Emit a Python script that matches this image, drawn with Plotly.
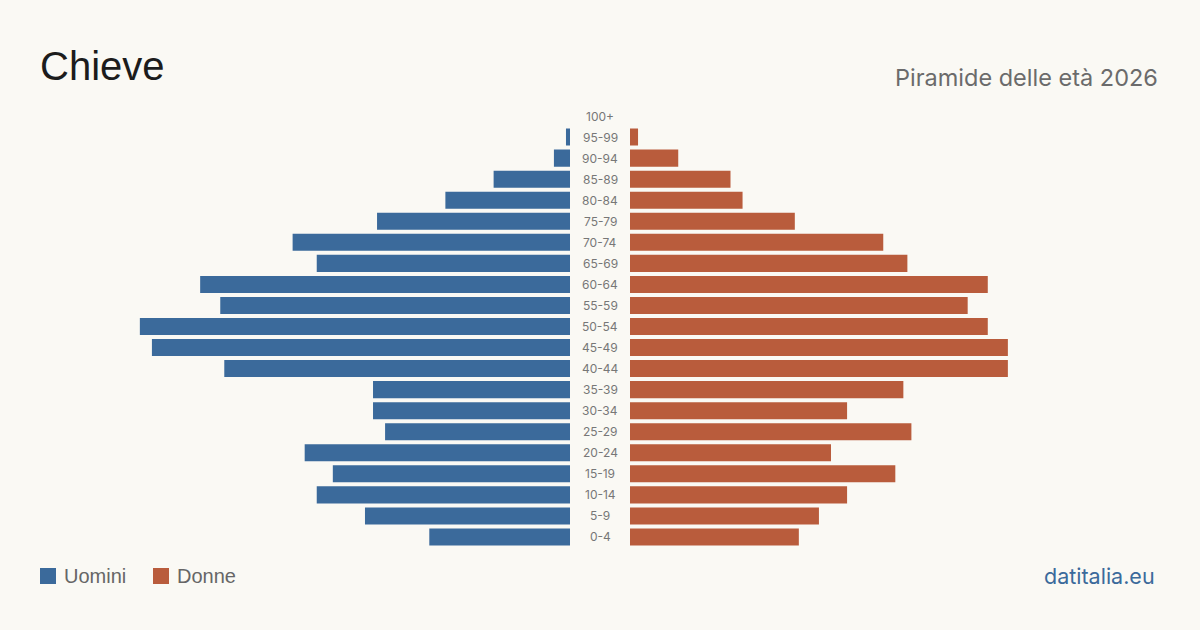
import plotly.graph_objects as go

age_groups = ["0-4", "5-9", "10-14", "15-19", "20-24", "25-29", "30-34", "35-39",
              "40-44", "45-49", "50-54", "55-59", "60-64", "65-69", "70-74",
              "75-79", "80-84", "85-89", "90-94", "95-99", "100+"]
men = [35, 51, 63, 59, 66, 46, 49, 49, 86, 104, 107, 87, 92, 63, 69, 48, 31, 19, 4, 1, 0]
women = [42, 47, 54, 66, 50, 70, 54, 68, 94, 94, 89, 84, 89, 69, 63, 41, 28, 25, 12, 2, 0]

series_names = ["Uomini", "Donne"]
title_text = "Chieve"
subtitle_text = "Piramide delle età 2026"
source_text = "datitalia.eu"

BLUE = "#3b6a9b"
ORANGE = "#b95c3c"
BG = "#faf9f4"
W, H = 1200, 630

xmax = 530 / 4.02
ydom = [1 - 547.5 / H, 1 - 105.5 / H]

fig = go.Figure()
fig.add_trace(go.Bar(y=age_groups, x=men, orientation="h", name=series_names[0],
                     marker=dict(color=BLUE, line=dict(width=0)),
                     xaxis="x", yaxis="y", hoverinfo="x+y", showlegend=False))
fig.add_trace(go.Bar(y=age_groups, x=women, orientation="h", name=series_names[1],
                     marker=dict(color=ORANGE, line=dict(width=0)),
                     xaxis="x2", yaxis="y2", hoverinfo="x+y", showlegend=False))

annotations = []
for g in age_groups:
    annotations.append(dict(x=0.5, xref="paper", y=g, yref="y", text=g,
                            showarrow=False, xanchor="center", yanchor="middle",
                            font=dict(family="Inter, sans-serif", size=12, color="#777777")))

annotations += [
    dict(x=38 / W, y=1 - 66 / H, xref="paper", yref="paper", text=title_text,
         showarrow=False, xanchor="left", yanchor="middle",
         font=dict(family="Liberation Sans, Arial, sans-serif", size=40, color="#1c1c1c")),
    dict(x=1160 / W, y=1 - 77 / H, xref="paper", yref="paper", text=subtitle_text,
         showarrow=False, xanchor="right", yanchor="middle",
         font=dict(family="Inter, sans-serif", size=23.5, color="#6b6b6b")),
    dict(x=1157 / W, y=1 - 576 / H, xref="paper", yref="paper", text=source_text,
         showarrow=False, xanchor="right", yanchor="middle",
         font=dict(family="Inter, sans-serif", size=21.5, color=BLUE)),
]

# legend (custom, to match square swatches)
shapes = []
legend_items = [(series_names[0], BLUE, 40), (series_names[1], ORANGE, 153)]
for name, col, x0 in legend_items:
    shapes.append(dict(type="rect", xref="paper", yref="paper",
                       x0=x0 / W, x1=(x0 + 16) / W, y0=1 - 584 / H, y1=1 - 568 / H,
                       fillcolor=col, line=dict(width=0)))
    annotations.append(dict(x=(x0 + 22) / W, y=1 - 576 / H, xref="paper", yref="paper",
                            text=name, showarrow=False, xanchor="left", yanchor="middle",
                            font=dict(family="Liberation Sans, Arial, sans-serif", size=20,
                                      color="#666666")))

fig.update_layout(
    width=W, height=H,
    margin=dict(l=0, r=0, t=0, b=0),
    paper_bgcolor=BG, plot_bgcolor=BG,
    bargap=0.19,
    showlegend=False,
    xaxis=dict(domain=[40 / W, 570 / W], range=[xmax, 0], visible=False, fixedrange=True),
    xaxis2=dict(domain=[630 / W, 1160 / W], range=[0, xmax], visible=False, fixedrange=True),
    yaxis=dict(domain=ydom, visible=False, categoryorder="array", categoryarray=age_groups,
               range=[-0.5, 20.5], anchor="x", fixedrange=True),
    yaxis2=dict(domain=ydom, visible=False, categoryorder="array", categoryarray=age_groups,
                range=[-0.5, 20.5], anchor="x2", matches="y", fixedrange=True),
    annotations=annotations,
    shapes=shapes,
)

fig.write_html("out.html", config={"displayModeBar": False})
